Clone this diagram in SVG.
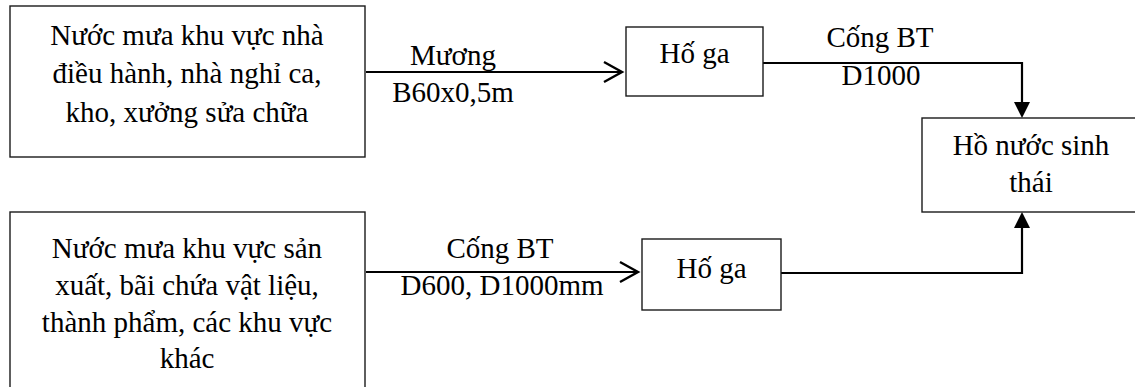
<svg xmlns="http://www.w3.org/2000/svg" width="1135" height="387" viewBox="0 0 1135 387">
<style>
.box{fill:#fff;stroke:#1a1a1a;stroke-width:1.4}
.t{font-family:'Liberation Serif','Times New Roman',serif;font-size:29px;fill:#000;text-anchor:middle}
.ln{fill:none;stroke:#000;stroke-width:2.2}
.open{fill:none;stroke:#000;stroke-width:2.4;stroke-linejoin:miter}
.tri{fill:#000}
</style>
<rect width="1135" height="387" fill="#fff"/>
<g id="connectors">
<line class="ln" x1="366" y1="72" x2="621" y2="72"/>
<polyline class="open" points="604,62 622,72 604,82"/>
<line class="ln" x1="366" y1="272" x2="637" y2="272"/>
<polyline class="open" points="620,262 638,272 620,282"/>
<polyline class="ln" points="763,63 1022,63 1022,104"/>
<polygon class="tri" points="1014,102 1030,102 1022,118"/>
<polyline class="ln" points="781,273 1022,273 1022,226"/>
<polygon class="tri" points="1014,228 1030,228 1022,212"/>
<text class="t" x="453" y="65">Mương</text>
<text class="t" x="453" y="102">B60x0,5m</text>
<text class="t" x="500" y="258">Cống BT</text>
<text class="t" x="502" y="295">D600, D1000mm</text>
<text class="t" x="880" y="47">Cống BT</text>
<text class="t" x="881" y="85">D1000</text>
</g>
<g id="node-src1">
<rect class="box" x="10" y="6" width="355" height="151"/>
<text class="t" x="187" y="45">Nước mưa khu vực nhà</text>
<text class="t" x="187" y="83">điều hành, nhà nghỉ ca,</text>
<text class="t" x="187" y="122">kho, xưởng sửa chữa</text>
</g>
<g id="node-hoga1">
<rect class="box" x="626" y="27" width="137" height="69"/>
<text class="t" x="694.5" y="63">Hố ga</text>
</g>
<g id="node-ho">
<rect class="box" x="922" y="118" width="220" height="94"/>
<text class="t" x="1031" y="155">Hồ nước sinh</text>
<text class="t" x="1031" y="192">thái</text>
</g>
<g id="node-src2">
<rect class="box" x="10" y="212" width="355" height="190"/>
<text class="t" x="187" y="258">Nước mưa khu vực sản</text>
<text class="t" x="187" y="295">xuất, bãi chứa vật liệu,</text>
<text class="t" x="187" y="332">thành phẩm, các khu vực</text>
<text class="t" x="187" y="368">khác</text>
</g>
<g id="node-hoga2">
<rect class="box" x="642" y="239" width="139" height="71"/>
<text class="t" x="711.5" y="278">Hố ga</text>
</g>
</svg>
